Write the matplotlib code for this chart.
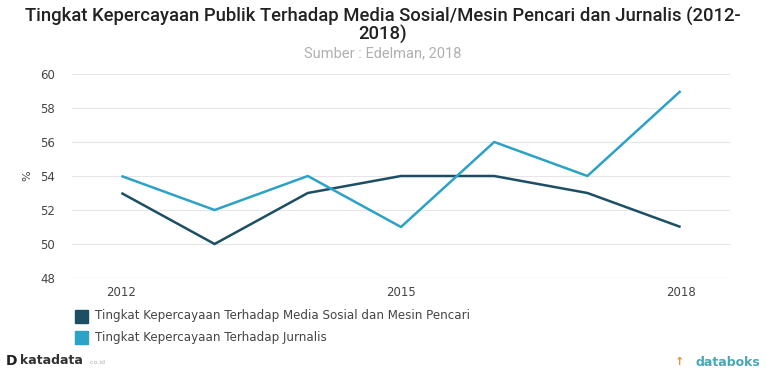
import matplotlib.pyplot as plt
from matplotlib.patches import Rectangle

# trust levels per year (%)
years = [2012, 2013, 2014, 2015, 2016, 2017, 2018]
media_sosial = [53, 50, 53, 54, 54, 53, 51]
jurnalis = [54, 52, 54, 51, 56, 54, 59]
y_ticks = [48, 50, 52, 54, 56, 58, 60]
x_ticks = [2012, 2015, 2018]
legend_labels = [
    "Tingkat Kepercayaan Terhadap Media Sosial dan Mesin Pencari",
    "Tingkat Kepercayaan Terhadap Jurnalis",
]

dark = "#1c4f64"
light = "#2ba2c6"

fig = plt.figure(figsize=(7.66, 3.69), dpi=100)
ax = fig.add_axes([0.094, 0.2466, 0.859, 0.5529])

ax.plot(years, media_sosial, color=dark, lw=1.8, clip_on=False, solid_capstyle="butt")
ax.plot(years, jurnalis, color=light, lw=1.8, clip_on=False, solid_capstyle="butt")

ax.set_xlim(2011.47, 2018.53)
ax.set_ylim(48, 60)
ax.set_yticks(y_ticks)
ax.set_xticks(x_ticks)
ax.tick_params(axis="both", length=0, labelsize=8.5, labelcolor="#444444")
ax.tick_params(axis="y", pad=12)
ax.tick_params(axis="x", pad=6)
ax.grid(axis="y", color="#e6e6e6", lw=0.8)
for s in ax.spines.values():
    s.set_visible(False)
ax.axhline(48, color="#cccccc", lw=0.8)
ax.set_ylabel("%", fontsize=8, color="#444444", labelpad=6)

# title block
fig.text(0.5, 1 - 16 / 369, "Tingkat Kepercayaan Publik Terhadap Media Sosial/Mesin Pencari dan Jurnalis (2012-",
         ha="center", va="center", fontsize=13.3, family="Roboto", weight="medium", color="#222222")
fig.text(0.5, 1 - 34 / 369, "2018)", ha="center", va="center", fontsize=13.3, family="Roboto",
         weight="medium", color="#222222")
fig.text(0.5, 1 - 53 / 369, "Sumber : Edelman, 2018", ha="center", va="center", fontsize=10.5,
         family="Roboto", color="#b0b0b0")

# legend
for i, (lab, col) in enumerate(zip(legend_labels, [dark, light])):
    yy = 1 - (316 + 21 * i) / 369
    fig.patches.append(Rectangle((75 / 766, yy - 6.5 / 369), 13 / 766, 13 / 369,
                                 transform=fig.transFigure, color=col))
    fig.text(95 / 766, yy, lab, ha="left", va="center", fontsize=8.6, color="#444444")

# footer marks
fig.text(0.008, 1 - 361 / 369, "D", ha="left", va="center", fontsize=10, weight="bold", color="#222222")
fig.text(0.026, 1 - 361 / 369, "katadata", ha="left", va="center", fontsize=9, weight="bold", color="#333333")
fig.text(0.115, 1 - 362 / 369, ".co.id", ha="left", va="center", fontsize=4.5, color="#aaaaaa")
fig.text(0.993, 1 - 362 / 369, "databoks", ha="right", va="center", fontsize=9, weight="bold", color="#4aa7b8")
fig.text(0.893, 1 - 362 / 369, "\u2191", ha="right", va="center", fontsize=8, weight="bold", color="#e8913a")

fig.savefig("out.png", dpi=100, facecolor="white")
